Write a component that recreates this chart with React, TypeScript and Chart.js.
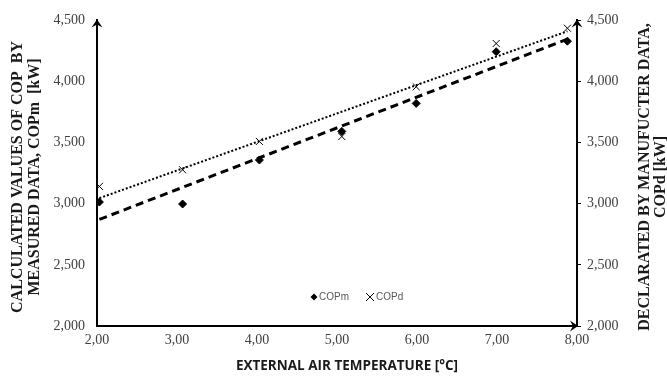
import React, { useEffect, useRef } from "react";
import { Chart, registerables } from "chart.js";

Chart.register(...registerables);

const temps = [2.03, 3.07, 4.03, 5.06, 5.99, 6.99, 7.88];
const copm = [3014, 2998, 3358, 3592, 3821, 4244, 4330];
const copd = [3142, 3278, 3510, 3550, 3957, 4311, 4436];
const trendX = [2.03, 7.88];
const copmTrend = [2872, 4347];
const copdTrend = [3046, 4411];
const xTicks = [2, 3, 4, 5, 6, 7, 8];
const yTicks = [2000, 2500, 3000, 3500, 4000, 4500];

const leftTitle = ["CALCULATED VALUES OF COP  BY", "MEASURED DATA, COPm  [kW]"];
const rightTitle = ["DECLARATED BY MANUFUCTER DATA,", "COPd [kW]"];
const xTitle = "EXTERNAL AIR TEMPERATURE [°C]";
const legendLabels = ["COPm", "COPd"];

const serif = "'Liberation Serif', 'Times New Roman', serif";
const tickColor = "#404040";

function fmtY(v: number) {
  return v.toLocaleString("en-US");
}
function fmtX(v: number) {
  return v.toFixed(2).replace(".", ",");
}

const decorPlugin = {
  id: "decor",
  afterDraw(chart: any) {
    const ctx = chart.ctx;
    const a = chart.chartArea;
    ctx.save();
    ctx.fillStyle = "#000";
    const arrowUp = (x: number, y: number) => {
      ctx.beginPath();
      ctx.moveTo(x, y - 1);
      ctx.lineTo(x - 5.5, y + 7);
      ctx.lineTo(x, y + 4);
      ctx.lineTo(x + 5.5, y + 7);
      ctx.closePath();
      ctx.fill();
    };
    const arrowRight = (x: number, y: number) => {
      ctx.beginPath();
      ctx.moveTo(x + 1, y);
      ctx.lineTo(x - 7, y - 5.5);
      ctx.lineTo(x - 4, y);
      ctx.lineTo(x - 7, y + 5.5);
      ctx.closePath();
      ctx.fill();
    };
    arrowUp(a.left, a.top);
    arrowUp(a.right, a.top);
    arrowRight(a.right, a.bottom);

    ctx.fillStyle = "#1a1a1a";
    ctx.font = `bold 16px ${serif}`;
    ctx.textAlign = "center";
    ctx.textBaseline = "middle";
    const cy = 177;
    ctx.save();
    ctx.translate(18, cy);
    ctx.rotate(-Math.PI / 2);
    ctx.fillText(leftTitle[0], 0, 0);
    ctx.fillText(leftTitle[1], 0, 17);
    ctx.restore();

    ctx.save();
    ctx.translate(645, cy);
    ctx.rotate(-Math.PI / 2);
    ctx.fillText(rightTitle[0], 0, 0);
    ctx.fillText(rightTitle[1], 0, 16);
    ctx.restore();

    ctx.font = "bold 13.5px 'Open Sans', sans-serif";
    ctx.fillText(xTitle, 347, 366);

    // legend
    ctx.font = "10px 'Liberation Sans', sans-serif";
    ctx.textAlign = "left";
    const ly = 297;
    ctx.fillStyle = "#000";
    ctx.beginPath();
    ctx.moveTo(314, ly - 3.5);
    ctx.lineTo(317.5, ly);
    ctx.lineTo(314, ly + 3.5);
    ctx.lineTo(310.5, ly);
    ctx.closePath();
    ctx.fill();
    ctx.fillStyle = "#595959";
    ctx.fillText(legendLabels[0], 319, ly);
    ctx.strokeStyle = "#000";
    ctx.lineWidth = 1;
    ctx.beginPath();
    ctx.moveTo(366, ly - 4);
    ctx.lineTo(374, ly + 4);
    ctx.moveTo(374, ly - 4);
    ctx.lineTo(366, ly + 4);
    ctx.stroke();
    ctx.fillText(legendLabels[1], 376, ly);
    ctx.restore();
  },
};

export default function App() {
  const ref = useRef<HTMLCanvasElement>(null);
  useEffect(() => {
    if (!ref.current) return;
    const chart = new Chart(ref.current, {
      type: "scatter",
      data: {
        datasets: [
          {
            label: "COPm trend",
            data: trendX.map((x, i) => ({ x, y: copmTrend[i] })),
            showLine: true,
            borderColor: "#000",
            borderWidth: 3,
            borderDash: [8, 5],
            pointRadius: 0,
            yAxisID: "y",
          },
          {
            label: "COPd trend",
            data: trendX.map((x, i) => ({ x, y: copdTrend[i] })),
            showLine: true,
            borderColor: "#000",
            borderWidth: 2,
            borderDash: [2, 2],
            pointRadius: 0,
            yAxisID: "y",
          },
          {
            label: "COPm",
            data: temps.map((x, i) => ({ x, y: copm[i] })),
            pointStyle: "rectRot",
            pointRadius: 4,
            backgroundColor: "#000",
            borderColor: "#000",
            borderWidth: 1,
            yAxisID: "y",
          },
          {
            label: "COPd",
            data: temps.map((x, i) => ({ x, y: copd[i] })),
            pointStyle: "crossRot",
            pointRadius: 5,
            backgroundColor: "#000",
            borderColor: "#000",
            borderWidth: 1,
            yAxisID: "y1",
          },
        ],
      },
      options: {
        responsive: false,
        animation: false,
        layout: { padding: { top: 13 } },
        plugins: { legend: { display: false }, tooltip: { enabled: false } },
        scales: {
          x: {
            type: "linear",
            min: 2,
            max: 8,
            afterBuildTicks: (s: any) => {
              s.ticks = xTicks.map((v) => ({ value: v }));
            },
            afterFit: (s: any) => {
              s.height = 51;
            },
            grid: { display: false, drawTicks: false },
            border: { display: true, color: "#000", width: 2 },
            ticks: {
              color: tickColor,
              font: { family: serif, size: 14 },
              padding: 6,
              maxRotation: 0,
              callback: (v: any) => fmtX(Number(v)),
            },
          },
          y: {
            type: "linear",
            position: "left",
            min: 2000,
            max: 4500,
            afterBuildTicks: (s: any) => {
              s.ticks = yTicks.map((v) => ({ value: v }));
            },
            afterFit: (s: any) => {
              s.width = 97;
            },
            grid: { display: false, drawTicks: false },
            border: { display: true, color: "#000", width: 2 },
            ticks: {
              color: tickColor,
              font: { family: serif, size: 14 },
              padding: 12,
              callback: (v: any) => fmtY(Number(v)),
            },
          },
          y1: {
            type: "linear",
            position: "right",
            min: 2000,
            max: 4500,
            afterBuildTicks: (s: any) => {
              s.ticks = yTicks.map((v) => ({ value: v }));
            },
            afterFit: (s: any) => {
              s.width = 90;
            },
            grid: {
              display: true,
              drawOnChartArea: false,
              drawTicks: true,
              tickLength: 4,
              color: "#000",
              lineWidth: 1,
            },
            border: { display: true, color: "#000", width: 2 },
            ticks: {
              color: tickColor,
              font: { family: serif, size: 14 },
              padding: 6,
              callback: (v: any) => fmtY(Number(v)),
            },
          },
        },
      },
      plugins: [decorPlugin],
    } as any);
    return () => chart.destroy();
  }, []);
  return (
    <div style={{ position: "fixed", left: 0, top: 0, width: 667, height: 377, background: "#fff" }}>
      <canvas ref={ref} width={667} height={377} style={{ width: 667, height: 377 }} />
    </div>
  );
}
